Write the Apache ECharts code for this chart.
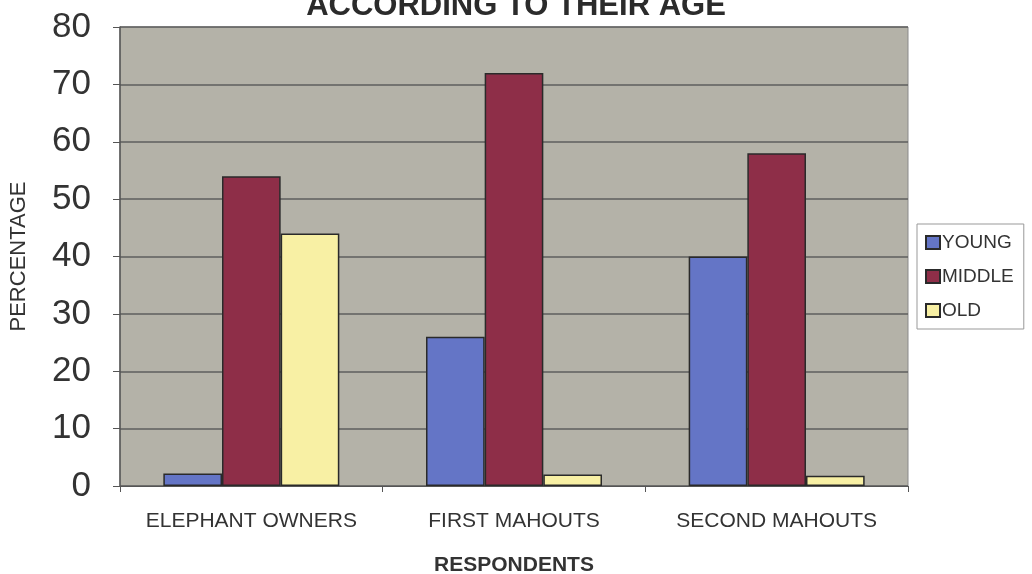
<!DOCTYPE html>
<html><head><meta charset="utf-8">
<script src="https://cdn.jsdelivr.net/npm/echarts@6/dist/echarts.min.js"></script>
<style>html,body{margin:0;padding:0;background:#fff}#c{width:1032px;height:574px}</style>
</head><body><div id="c"></div>
<script>
const categories = ['ELEPHANT OWNERS', 'FIRST MAHOUTS', 'SECOND MAHOUTS'];
const young = [2.2, 26, 40];
const middle = [54, 72, 58];
const old = [44, 2, 1.8];
const yTicks = [0, 10, 20, 30, 40, 50, 60, 70, 80];

const chart = echarts.init(document.getElementById('c'));
const font = 'Liberation Sans, Arial, sans-serif';
const barStyle = c => ({ color: c, borderColor: '#2a2a2a', borderWidth: 1.5 });
chart.setOption({
  animation: false,
  backgroundColor: '#fff',
  title: {
    text: 'ACCORDING TO THEIR AGE', left: 'center', top: -14,
    textStyle: { fontFamily: font, fontSize: 31, fontWeight: 'bold', color: '#2b2b2b' }
  },
  legend: {
    orient: 'vertical', left: 917, top: 224,
    itemWidth: 14, itemHeight: 13, itemGap: 15,
    backgroundColor: '#fff', borderColor: '#999', borderWidth: 1,
    padding: [9, 10, 9, 8],
    textStyle: { fontFamily: font, fontSize: 19, color: '#333', padding: [0, 0, 0, -3] },
    icon: 'rect',
    data: ['YOUNG', 'MIDDLE', 'OLD']
  },
  grid: { left: 120, right: 124, top: 27, bottom: 88, outerBoundsMode: 'none', containLabel: false, show: true, backgroundColor: '#b4b2a8', borderColor: '#8a8a8a', borderWidth: 1 },
  xAxis: {
    type: 'category', data: categories,
    axisLine: { lineStyle: { color: '#555', width: 1 } },
    axisTick: { show: true, interval: 0, length: 6, lineStyle: { color: '#555' } },
    axisLabel: { interval: 0, hideOverlap: false, fontFamily: font, fontSize: 21, color: '#333', margin: 25 },
    name: 'RESPONDENTS', nameLocation: 'middle', nameGap: 69,
    nameTextStyle: { fontFamily: font, fontSize: 21, fontWeight: 'bold', color: '#333' }
  },
  yAxis: {
    type: 'value', min: yTicks[0], max: yTicks[yTicks.length - 1], interval: 10,
    axisLine: { show: true, lineStyle: { color: '#555', width: 1.5 } },
    axisTick: { show: true, length: 7, lineStyle: { color: '#555' } },
    axisLabel: { fontFamily: font, fontSize: 35, color: '#333', margin: 29 },
    splitLine: { lineStyle: { color: '#5e5e5e', width: 1.5 } },
    name: 'PERCENTAGE', nameLocation: 'middle', nameGap: 90, nameRotate: 90,
    nameTextStyle: { fontFamily: font, fontSize: 22, color: '#333' }
  },
  series: [
    { name: 'YOUNG', type: 'bar', data: young, barGap: '0%', barCategoryGap: '33%', itemStyle: barStyle('#6475c6') },
    { name: 'MIDDLE', type: 'bar', data: middle, itemStyle: barStyle('#8e2e48') },
    { name: 'OLD', type: 'bar', data: old, itemStyle: barStyle('#f8f0a4') }
  ]
});
</script></body></html>
